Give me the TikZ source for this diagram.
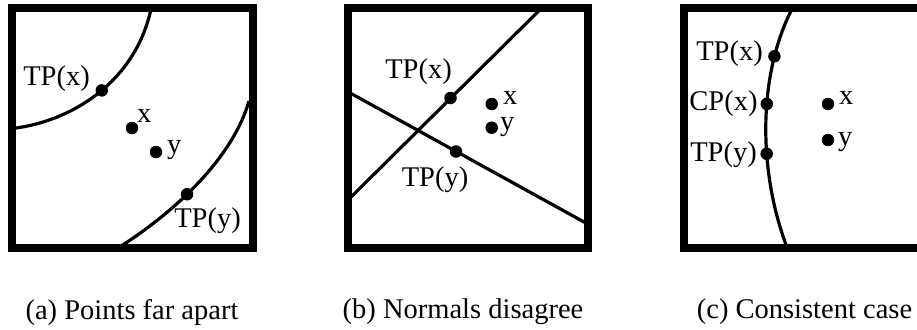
\documentclass[tikz,border=0pt]{standalone}
\usepackage{fontspec}
\setmainfont{Liberation Serif}

\begin{document}
\begin{tikzpicture}[x=1pt, y=-1pt,
    every node/.style={font=\fontsize{28.5}{30}\selectfont, inner sep=0pt},
    frame/.style={line width=8pt},
    surf/.style={line width=3.2pt},
    dot/.style={circle, fill=black, minimum size=12.5pt}]
    \clip (0,0) rectangle (917,329);

    \draw[surf] (12,128.5) .. controls (70,122) and (135,83) .. (151,9)
        node[dot, pos=0.53] (tpxa) {};
    \draw[surf] (118,248) .. controls (172,214) and (232,160) .. (249,101)
        node[dot, pos=0.43] (tpya) {};
    \node[dot] (xa) at (132,128) {};
    \node[dot] (ya) at (156,152) {};
    \node (ltpxa) at (56.5,78.5) {TP(x)};
    \node (ltpya) at (207.5,220.5) {TP(y)};
    \node[anchor=base west] (lxa) at (137,122) {x};
    \node[anchor=base west] (lya) at (167,153) {y};
    \draw[frame] (12,8) rectangle (253,248);

    \coordinate (ua) at (348,200);
    \coordinate (ub) at (541.7,8);
    \coordinate (va) at (348,91.8);
    \coordinate (vb) at (588,224.2);
    \draw[surf] (ua) -- (ub);
    \draw[surf] (va) -- (vb);
    \node[dot] (tpxb) at (450.5,98) {};
    \node[dot] (tpyb) at (456,151.5) {};
    \node[dot] (xb) at (491.7,104) {};
    \node[dot] (yb) at (491.7,127.7) {};
    \node (ltpxb) at (418.5,72) {TP(x)};
    \node (ltpyb) at (435,179.5) {TP(y)};
    \node[anchor=base west] (lxb) at (503,104) {x};
    \node[anchor=base west] (lyb) at (500,130.5) {y};
    \draw[frame] (348,8) rectangle (588,248);

    \draw[surf] (792,9) .. controls (758,75) and (758,170) .. (786.5,246)
        node[dot, pos=0.22] (tpxc) {}
        node[dot, pos=0.42] (cpxc) {}
        node[dot, pos=0.62] (tpyc) {};
    \node[dot] (xc) at (828,104) {};
    \node[dot] (yc) at (828,140) {};
    \node (ltpxc) at (729.5,54) {TP(x)};
    \node (lcpxc) at (723.5,103.5) {CP(x)};
    \node (ltpyc) at (723.5,155) {TP(y)};
    \node[anchor=base west] (lxc) at (839,104) {x};
    \node[anchor=base west] (lyc) at (838,145) {y};
    \draw[frame] (684,8) rectangle (924,248);

    \node (capa) at (132,312) {(a) Points far apart};
    \node (capb) at (463,312) {(b) Normals disagree};
    \node (capc) at (804.5,312) {(c) Consistent case};
\end{tikzpicture}
\end{document}
